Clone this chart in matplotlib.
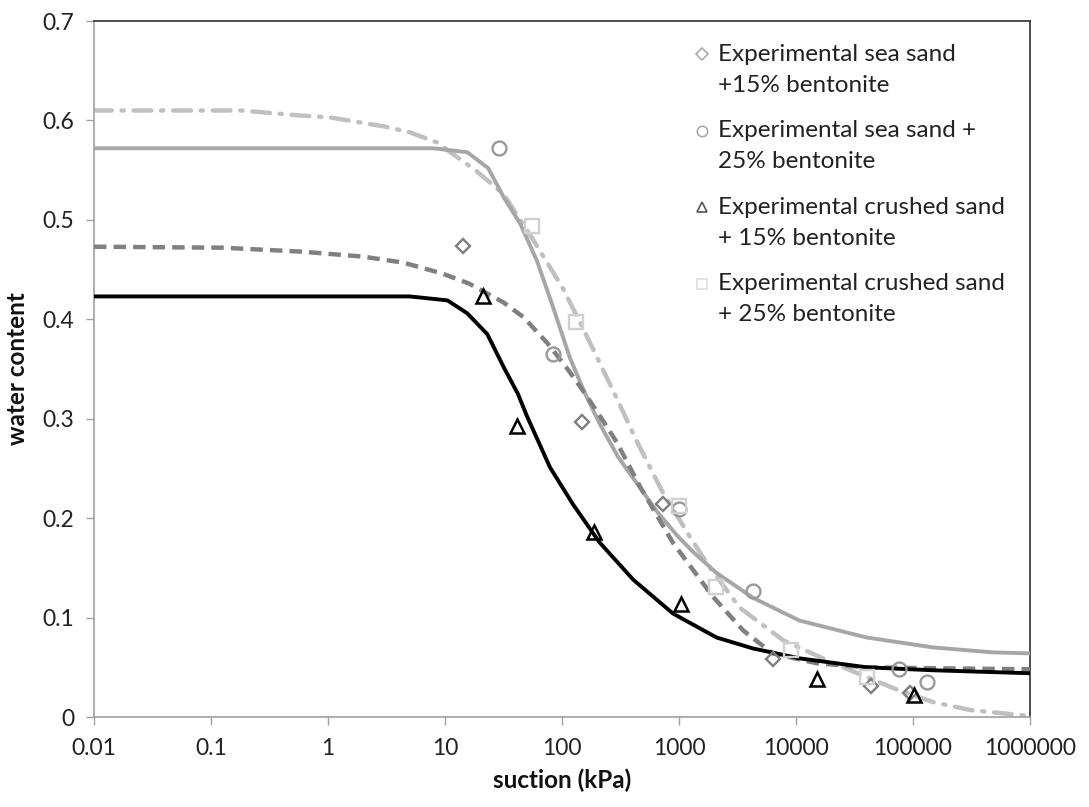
import matplotlib
matplotlib.use("Agg")
import matplotlib.pyplot as plt
from matplotlib.lines import Line2D

plt.rcParams['font.family'] = ['Lato', 'DejaVu Sans']

# ---------------- data ----------------
series_labels = [
    "Experimental sea sand\n+15% bentonite",
    "Experimental sea sand +\n25% bentonite",
    "Experimental crushed sand\n+ 15% bentonite",
    "Experimental crushed sand\n+ 25% bentonite",
]

sea15_x = [14.3, 148, 725, 6300, 44000, 95000]
sea15_y = [0.474, 0.297, 0.214, 0.058, 0.031, 0.024]

sea25_x = [29, 83, 1000, 4270, 76000, 132000]
sea25_y = [0.572, 0.365, 0.209, 0.127, 0.048, 0.035]

crushed15_x = [21, 41, 186, 1050, 15000, 102000]
crushed15_y = [0.423, 0.293, 0.186, 0.114, 0.038, 0.022]

crushed25_x = [55, 132, 1000, 2090, 9100, 40700]
crushed25_y = [0.494, 0.397, 0.212, 0.131, 0.067, 0.040]

# fitted curves
fit_crushed15_x = [0.01, 0.1, 1, 5, 10.5, 15.5, 23, 32, 42, 50, 79, 124, 208, 407, 890,
                   2090, 4270, 10700, 40000, 148000, 1e6]
fit_crushed15_y = [0.423, 0.423, 0.423, 0.423, 0.419, 0.406, 0.385, 0.351, 0.325, 0.303,
                   0.251, 0.214, 0.176, 0.138, 0.104, 0.080, 0.069, 0.059, 0.050, 0.047, 0.044]

fit_sea25_x = [0.01, 1, 8, 15.5, 23.4, 32, 44, 61, 84, 117, 158, 210, 300, 407, 645, 955, 1320,
               2090, 4270, 10700, 40000, 148000, 480000, 1e6]
fit_sea25_y = [0.572, 0.572, 0.572, 0.568, 0.552, 0.522, 0.496, 0.459, 0.412, 0.361, 0.325,
               0.295, 0.262, 0.240, 0.207, 0.183, 0.166, 0.145, 0.120, 0.097, 0.080, 0.070,
               0.065, 0.064]

fit_sea15_x = [0.01, 0.126, 0.6, 2, 4.4, 9.5, 16, 31.6, 47, 75, 110, 158, 224, 295, 468, 890,
               1950, 3540, 6300, 15100, 40000, 150000, 1e6]
fit_sea15_y = [0.473, 0.472, 0.468, 0.463, 0.457, 0.446, 0.436, 0.417, 0.402, 0.376, 0.351,
               0.325, 0.298, 0.276, 0.231, 0.175, 0.121, 0.087, 0.064, 0.054, 0.050, 0.049, 0.048]

fit_crushed25_x = [0.01, 0.18, 0.57, 1.04, 3, 5, 8.5, 18.6, 31.6, 56, 102, 166, 274, 437, 725,
                   1290, 1820, 3300, 7800, 21000, 68000, 148000, 310000, 1e6]
fit_crushed25_y = [0.610, 0.610, 0.605, 0.603, 0.594, 0.588, 0.578, 0.549, 0.526, 0.481, 0.431,
                   0.381, 0.328, 0.277, 0.226, 0.178, 0.151, 0.110, 0.077, 0.054, 0.029, 0.015,
                   0.007, 0.001]

x_ticks = [0.01, 0.1, 1, 10, 100, 1000, 10000, 100000, 1000000]
x_tick_labels = ["0.01", "0.1", "1", "10", "100", "1000", "10000", "100000", "1000000"]
y_ticks = [0, 0.1, 0.2, 0.3, 0.4, 0.5, 0.6, 0.7]
y_tick_labels = ["0", "0.1", "0.2", "0.3", "0.4", "0.5", "0.6", "0.7"]

# ---------------- figure ----------------
fig = plt.figure(figsize=(10.89, 8.07), dpi=100)
ax = fig.add_axes([94 / 1089, 1 - 717 / 807, (1030 - 94) / 1089, (717 - 21) / 807])

# curves
ax.plot(fit_crushed25_x, fit_crushed25_y, color='#c0c0c0', lw=3.2,
        linestyle=(0, (4, 2.2, 0.5, 2.2)), dash_capstyle='round', zorder=2)
ax.plot(fit_sea25_x, fit_sea25_y, color='#a6a6a6', lw=2.8, zorder=3)
ax.plot(fit_sea15_x, fit_sea15_y, color='#808080', lw=3.2, linestyle=(0, (2.8, 1.6)), zorder=3)
ax.plot(fit_crushed15_x, fit_crushed15_y, color='#000000', lw=2.8, zorder=4)

# markers
ax.plot(sea15_x, sea15_y, linestyle='none', marker='D', ms=7.5, mfc='none',
        mec='#7f7f7f', mew=1.7, zorder=5)
ax.plot(sea25_x, sea25_y, linestyle='none', marker='o', ms=10, mfc='none',
        mec='#999999', mew=1.7, zorder=5)
ax.plot(crushed15_x, crushed15_y, linestyle='none', marker='^', ms=10, mfc='none',
        mec='#000000', mew=1.8, zorder=6)
ax.plot(crushed25_x, crushed25_y, linestyle='none', marker='s', ms=10, mfc='none',
        mec='#d0d0d0', mew=1.7, zorder=5)

ax.set_xscale('log')
ax.set_xlim(0.01, 1000000)
ax.set_ylim(0, 0.7)
ax.set_xticks(x_ticks)
ax.set_xticklabels(x_tick_labels)
ax.xaxis.set_minor_locator(matplotlib.ticker.NullLocator())
ax.set_yticks(y_ticks)
ax.set_yticklabels(y_tick_labels)

ax.tick_params(axis='both', which='major', direction='out', length=6, width=1,
               color='#a0a0a0', labelsize=16.5, labelcolor='#222222')
ax.tick_params(axis='x', pad=9)
ax.tick_params(axis='y', pad=8)

for side in ['left', 'bottom']:
    ax.spines[side].set_color('#a0a0a0')
    ax.spines[side].set_linewidth(1.2)
for side in ['top', 'right']:
    ax.spines[side].set_color('#303030')
    ax.spines[side].set_linewidth(1.2)

ax.set_xlabel("suction (kPa)", fontsize=17.5, fontweight='bold', labelpad=7, color='#111111')
ax.set_ylabel("water content", fontsize=17.5, fontweight='bold', labelpad=10, color='#111111')

# legend
handles = [
    Line2D([], [], linestyle='none', marker='D', ms=6, mfc='none', mec='#aaaaaa', mew=1.2),
    Line2D([], [], linestyle='none', marker='o', ms=7.5, mfc='none', mec='#aaaaaa', mew=1.2),
    Line2D([], [], linestyle='none', marker='^', ms=7.5, mfc='none', mec='#555555', mew=1.2),
    Line2D([], [], linestyle='none', marker='s', ms=7.5, mfc='none', mec='#dddddd', mew=1.2),
]
leg = ax.legend(handles, series_labels, loc='upper left', bbox_to_anchor=(0.630, 0.981),
                frameon=False, fontsize=17.5, handlelength=0.7, handletextpad=0.3,
                labelspacing=1.02, borderaxespad=0)
for t in leg.get_texts():
    t.set_color('#222222')
    t.set_linespacing(1.57)
# align each legend marker with the first text line
for h in leg.legend_handles:
    h.set_ydata([v + 11.2 for v in h.get_ydata()])

fig.savefig("out.png", dpi=100)
